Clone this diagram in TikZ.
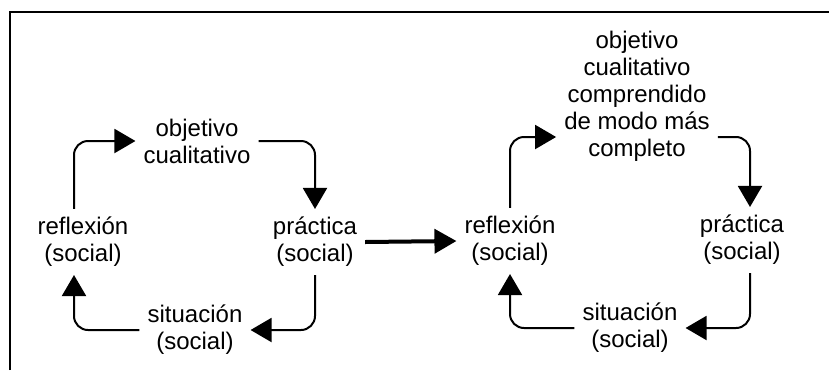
\documentclass[tikz,border=0pt]{standalone}
\usepackage{fontspec}
\setmainfont{Liberation Sans}
\usetikzlibrary{arrows.meta}

\begin{document}
\begin{tikzpicture}[
    x=1pt, y=-1pt,
    >={Triangle[length=21pt, width=24pt]},
    stage_node/.style={align=center, inner sep=8pt, font=\fontsize{24}{27}\selectfont},
    cycle_edge/.style={->, line width=2pt, rounded corners=14pt},
    step_edge/.style={->, line width=4pt, >={Triangle[length=22pt, width=24pt]}}
]
\useasboundingbox (0,0) rectangle (829,370);

% --- FRAME ---
\draw[line width=1.8pt] (10,370) -- (10,12) -- (829,12);

% --- NODES ---

% Cycle 1 (left)
\node[stage_node] (obj)  at (197,141) {objetivo\\cualitativo};
\node[stage_node] (prac) at (315,242) {práctica\\(social)};
\node[stage_node] (sit)  at (195,330) {situación\\(social)};
\node[stage_node] (refl) at (83,242)  {reflexión\\(social)};

% Cycle 2 (right)
\node[stage_node] (obj2)  at (637,96)  {objetivo\\cualitativo\\comprendido\\de modo más\\completo};
\node[stage_node] (prac2) at (742,240) {práctica\\(social)};
\node[stage_node] (sit2)  at (630,328) {situación\\(social)};
\node[stage_node] (refl2) at (510,241) {reflexión\\(social)};

% --- EDGES ---

% 1. Cycle 1
\draw[cycle_edge] ([xshift=-9pt]refl.north) |- (obj.west);
\draw[cycle_edge] (obj.east) -| (prac.north);
\draw[cycle_edge] (prac.south) |- (sit.east);
\draw[cycle_edge] (sit.west) -| ([xshift=-9pt]refl.south);

% 2. From one cycle to the next
\draw[step_edge] (prac.east) -- (refl2.west);

% 3. Cycle 2
\draw[cycle_edge] (refl2.north) |- ([yshift=-41pt]obj2.west);
\draw[cycle_edge] ([yshift=-41pt]obj2.east) -| ([xshift=8pt]prac2.north);
\draw[cycle_edge] ([xshift=8pt]prac2.south) |- (sit2.east);
\draw[cycle_edge] (sit2.west) -| (refl2.south);

\end{tikzpicture}
\end{document}
